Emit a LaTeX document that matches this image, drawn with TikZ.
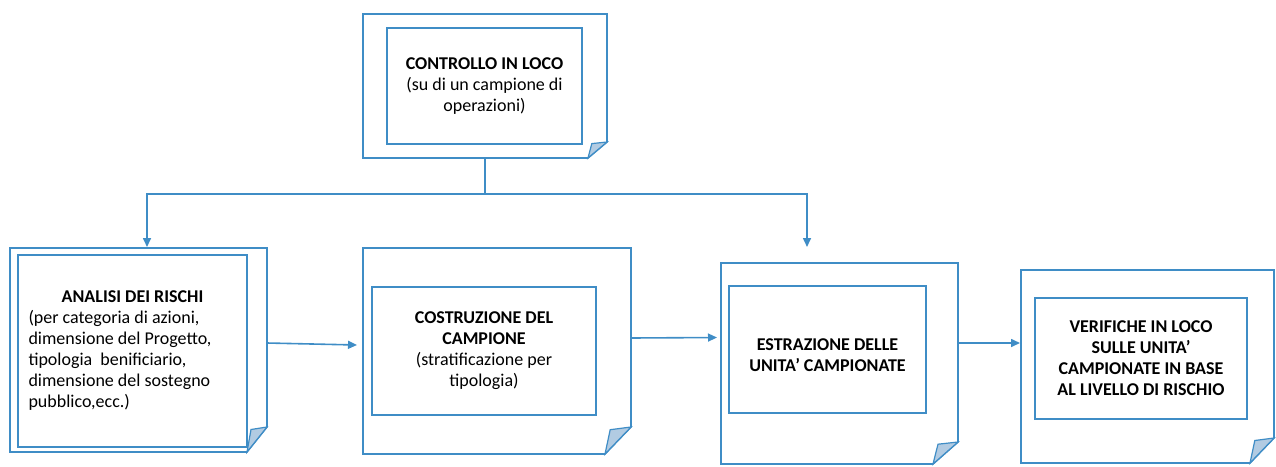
\documentclass[tikz,border=0pt]{standalone}
\usepackage{fontspec}
\setmainfont{Carlito}
\usetikzlibrary{arrows.meta,calc}
\definecolor{bl}{HTML}{3F8DC6}
\definecolor{foldc}{HTML}{B2CBE2}
\tikzset{
  boxline/.style={draw=bl, line width=1.6pt, line join=miter},
  outerbox/.style={inner sep=0pt, outer sep=0pt},
  innerbox/.style={draw=bl, line width=1.6pt, fill=white, inner sep=0pt, outer sep=0pt,
    align=center, font=\fontsize{18}{21}\selectfont},
  conn/.style={draw=bl, line width=1.6pt},
  arr/.style={conn, -{Triangle[length=9pt,width=8pt]}},
}
\newcommand\foldoutline[3]{%
  \draw[boxline, fill=white] (#1.north west) -- (#1.north east) -- ($(#1.south east)+(0,-#3)$)
    -- ($(#1.south east)+(-#2,0)$) -- (#1.south west) -- cycle;
  \draw[boxline, fill=foldc, line width=1.2pt] ($(#1.south east)+(-#2,0)$)
    -- ($(#1.south east)+(-0.8*#2,-0.9*#3)$) -- ($(#1.south east)+(0,-#3)$) -- cycle;
}
\begin{document}
\begin{tikzpicture}[x=1pt,y=-1pt]
\useasboundingbox (0,0) rectangle (1276,466);

% outer frames
\node[outerbox, minimum width=244pt, minimum height=144pt] (o0) at (485,86) {};
\node[outerbox, minimum width=257pt, minimum height=204pt] (o1) at (138.5,350) {};
\node[outerbox, minimum width=268pt, minimum height=206pt] (o2) at (497,351) {};
\node[outerbox, minimum width=237pt, minimum height=201pt] (o3) at (839.5,363.5) {};
\node[outerbox, minimum width=253pt, minimum height=193pt] (o4) at (1147.5,366.5) {};
\foldoutline{o0}{19}{16}
\foldoutline{o1}{20}{25}
\foldoutline{o2}{26}{27}
\foldoutline{o3}{25}{22}
\foldoutline{o4}{24}{25}

% inner boxes with text
\node[innerbox, minimum width=195pt, minimum height=116pt] (i0) at (484.5,86)
  {\textbf{CONTROLLO IN LOCO}\\(su di un campione di\\operazioni)};
\node[innerbox, minimum width=229pt, minimum height=192pt, align=left] (i1) at (132.5,351)
  {\makebox[208pt][c]{\textbf{ANALISI DEI RISCHI}}\\(per categoria di azioni,\\dimensione del Progetto,\\tipologia\ \ benificiario,\\dimensione del sostegno\\pubblico,ecc.)};
\node[innerbox, minimum width=224pt, minimum height=128pt] (i2) at (484,351)
  {\textbf{COSTRUZIONE DEL}\\\textbf{CAMPIONE}\\(stratificazione per\\tipologia)};
\node[innerbox, minimum width=197pt, minimum height=127pt] (i3) at (827.5,349.5)
  {\rule{0pt}{24pt}\textbf{ESTRAZIONE DELLE}\\\textbf{UNITA' CAMPIONATE}};
\node[innerbox, minimum width=212pt, minimum height=121pt] (i4) at (1141,358.5)
  {\textbf{VERIFICHE IN LOCO}\\\textbf{SULLE UNITA'}\\\textbf{CAMPIONATE IN BASE}\\\textbf{AL LIVELLO DI RISCHIO}};

% connectors
\coordinate (j) at ($(o0.south)+(0,36)$);
\coordinate (tl) at ($(o1.north)+(8.5,-1)$);
\coordinate (tr) at ($(o3.north)+(-32.5,-16)$);
\draw[conn] (o0.south) -- (j);
\draw[arr] (j) -| (tl);
\draw[arr] (j) -| (tr);
\draw[arr] ($(o1.east)+(0,-7)$) -- ($(o2.west)+(-6,-6)$);
\draw[arr] ($(o2.east)+(0,-13)$) -- ($(o3.west)+(-4,-26)$);
\draw[arr] ($(o3.east)+(0,-20.5)$) -- ($(o4.west)+(-1,-23.5)$);
\end{tikzpicture}
\end{document}
